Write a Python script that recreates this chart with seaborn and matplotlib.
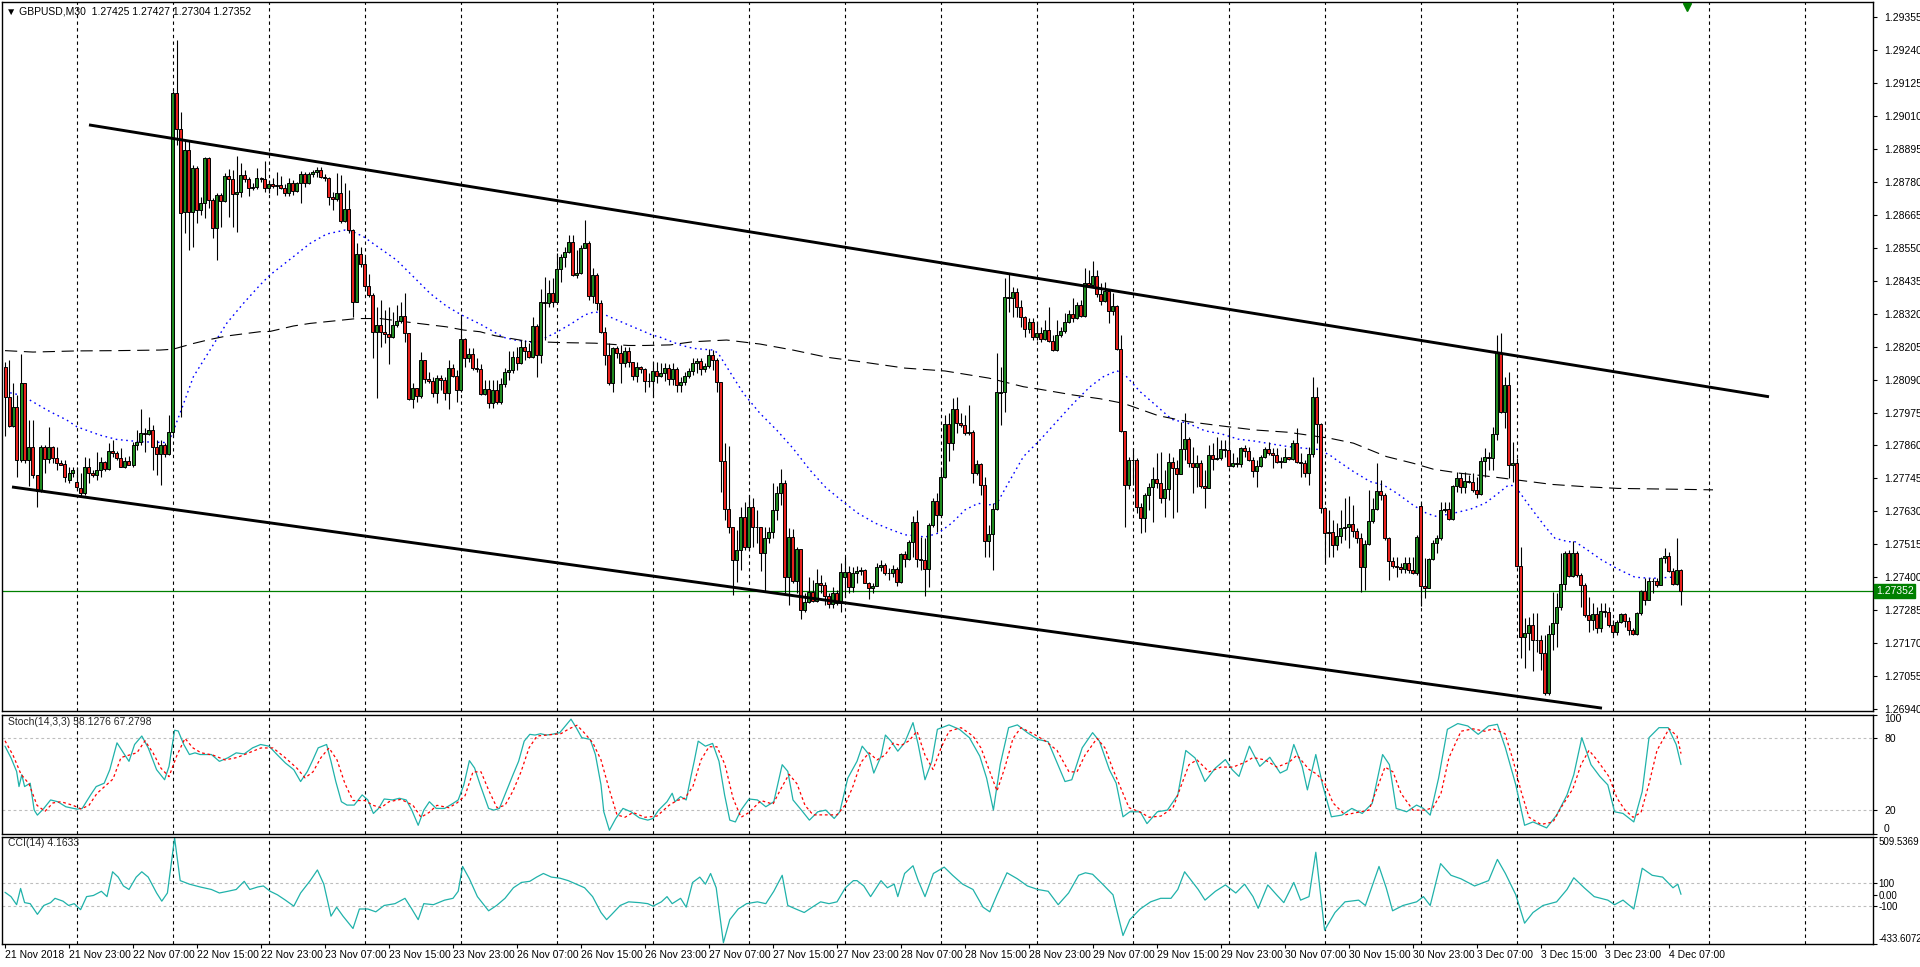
import numpy as np
import pandas as pd
import matplotlib
matplotlib.use('Agg')
import matplotlib.pyplot as plt
import seaborn as sns

# GBPUSD M30 candles, values are pips above BASE
BASE = 1.27

opens = [113.5,103.0,92.8,99.3,81.0,107.7,81.0,85.3,75.7,70.1,
         85.3,81.2,85.3,81.5,80.0,79.5,73.9,76.3,73.2,71.0,
         69.3,78.6,76.3,75.7,77.4,80.3,77.7,84.1,83.5,81.7,
         78.6,80.5,79.2,86.2,87.1,90.2,90.0,91.4,85.3,82.9,
         86.2,83.0,90.8,208.9,196.3,167.6,189.1,167.6,183.0,168.2,
         170.8,186.2,171.7,161.8,173.6,171.4,180.0,178.9,173.8,174.6,
         180.3,178.9,176.0,176.3,179.2,179.0,176.0,177.2,176.5,177.0,
         176.0,174.2,177.5,174.9,177.5,180.7,177.5,180.7,181.3,182.1,
         179.6,179.2,172.6,172.2,174.0,164.4,168.7,161.2,136.2,153.0,
         149.5,141.6,138.5,125.7,128.0,125.7,124.9,123.9,128.0,129.4,
         131.2,125.1,102.1,105.9,103.2,116.0,109.1,108.6,104.4,109.7,
         108.8,104.2,112.9,110.3,105.3,123.1,116.4,118.0,112.9,112.6,
         103.9,105.6,100.7,105.3,101.1,107.5,111.8,112.4,117.0,114.9,
         120.5,119.1,117.0,127.7,117.6,136.2,135.9,139.1,136.2,147.6,
         151.9,153.4,156.9,145.5,146.1,154.8,156.8,138.2,145.5,135.6,
         125.6,117.5,107.7,119.9,118.4,114.9,118.8,115.3,110.3,113.3,
         112.6,108.6,108.4,112.0,110.4,111.4,112.9,109.1,112.6,107.1,
         108.3,110.2,112.1,114.9,115.6,112.6,113.6,117.6,115.8,108.3,
         80.7,63.7,57.4,46.0,49.5,61.1,50.7,64.4,57.7,57.5,
         48.6,53.6,55.7,63.5,69.5,72.8,40.0,54.2,38.8,49.9,
         28.6,31.5,35.0,31.8,37.9,37.3,33.5,30.7,34.4,30.9,
         40.2,41.8,36.7,41.6,42.3,42.6,38.1,36.2,37.0,43.5,
         44.3,41.6,41.3,42.8,38.3,48.2,46.3,52.2,59.2,46.3,
         46.1,42.8,58.3,66.6,61.8,74.9,93.5,87.0,98.6,93.8,
         93.0,90.3,90.8,76.5,79.4,72.2,52.5,55.1,63.7,104.2,
         104.8,137.9,137.3,139.7,134.4,130.9,126.5,129.2,123.7,125.1,
         123.1,126.3,122.6,119.3,124.5,126.1,129.2,131.9,130.6,135.0,
         131.2,142.6,142.1,145.1,138.9,136.5,140.0,133.0,134.6,119.5,
         91.0,72.2,80.9,80.9,64.6,60.6,68.7,71.6,74.2,73.0,
         67.5,70.7,80.1,78.3,76.2,84.6,88.1,79.7,78.6,80.0,
         71.8,71.2,82.6,81.1,81.7,84.6,84.4,78.8,79.7,79.4,
         85.0,84.2,80.9,77.2,78.8,82.1,84.6,83.5,82.6,80.3,
         80.3,81.8,81.1,86.7,80.3,80.0,76.5,82.9,102.8,93.5,
         64.0,55.6,55.9,51.3,54.4,57.1,57.7,58.5,56.0,53.6,
         43.4,51.5,59.6,63.7,70.1,68.7,53.6,45.5,44.0,43.4,
         42.8,44.9,42.6,41.4,64.7,37.0,36.2,46.3,51.9,53.6,
         63.5,63.7,60.2,71.9,74.5,71.6,73.6,73.4,70.5,69.1,
         80.6,81.8,81.5,89.9,118.2,97.8,107.1,79.2,80.0,43.9,
         19.0,20.4,23.3,18.1,18.1,13.4,-0.3,20.2,24.1,29.7,
         37.5,48.4,40.6,48.4,40.8,37.3,26.8,25.1,27.1,22.2,
         28.2,27.7,23.3,21.0,24.5,27.1,24.8,21.6,20.2,27.4,
         35.2,32.1,38.7,38.8,37.3,46.6,47.5,42.3,37.6,42.5]

highs = [115.2,115.8,107.7,103.6,117.9,107.7,94.9,94.9,75.7,86.2,
         86.2,92.3,85.8,85.3,80.9,80.9,78.6,78.6,78.6,76.3,
         82.1,81.5,77.4,83.8,82.1,80.5,86.7,87.9,83.9,85.0,
         82.1,82.4,87.3,91.4,98.6,92.0,96.0,93.1,87.9,87.9,
         87.0,96.6,209.8,227.7,202.5,192.6,192.6,183.9,183.5,172.8,
         186.8,186.8,172.3,174.0,174.0,181.0,182.4,182.1,187.0,184.5,
         182.1,179.8,177.5,182.7,179.8,185.4,178.6,179.2,181.5,180.0,
         177.2,179.2,178.6,178.0,181.9,181.5,181.5,182.1,183.3,183.3,
         180.9,179.8,174.6,181.2,180.4,177.5,175.1,161.5,156.5,155.4,
         151.9,146.0,139.1,134.4,136.7,133.3,134.4,132.7,135.0,136.2,
         139.1,125.1,107.7,105.9,118.7,116.0,111.7,110.0,110.5,110.5,
         110.0,115.8,114.6,112.3,130.9,123.5,120.0,120.0,116.4,114.6,
         108.8,108.8,108.8,108.8,109.5,113.0,118.8,118.8,120.5,122.8,
         122.8,121.7,131.0,128.4,140.5,144.7,143.8,144.4,153.1,152.8,
         155.4,159.5,159.5,154.2,156.0,164.7,157.3,147.8,146.1,136.8,
         127.5,121.7,120.5,120.7,121.0,120.5,120.5,115.3,115.3,113.8,
         113.0,111.2,115.3,115.3,114.7,114.7,114.5,114.7,113.5,110.0,
         111.8,112.9,116.4,116.4,116.5,114.7,119.5,119.3,116.4,108.3,
         86.7,85.8,57.7,56.5,64.6,66.4,68.7,67.5,63.5,57.7,
         57.7,57.7,73.0,71.8,77.7,73.9,57.1,56.7,50.7,49.9,
         34.4,40.2,39.0,42.8,40.8,38.4,34.4,36.7,35.5,44.9,
         47.2,44.0,43.7,43.9,43.7,43.0,38.5,37.9,45.1,46.1,
         44.9,43.2,44.3,43.7,48.4,49.0,53.0,61.2,63.5,54.2,
         53.6,58.9,67.6,69.3,78.6,96.7,97.2,102.5,103.0,97.2,
         96.7,100.2,91.5,81.0,79.8,75.1,58.3,65.8,118.1,113.5,
         144.3,146.1,141.4,140.8,136.8,131.2,130.4,130.4,129.2,127.5,
         129.8,134.4,124.5,129.8,127.5,132.1,133.3,137.3,136.2,136.8,
         147.8,147.2,150.5,147.2,142.6,143.1,140.5,139.1,135.0,124.5,
         91.0,82.1,85.0,81.5,65.8,69.3,72.8,78.6,83.2,83.8,
         77.4,83.2,82.1,80.9,94.3,97.4,89.0,85.6,82.6,80.9,
         77.4,86.1,86.7,89.0,87.9,87.9,91.4,83.2,82.1,85.6,
         86.1,85.6,82.1,80.9,82.6,85.6,87.3,85.0,85.0,82.1,
         85.0,82.1,87.9,92.0,83.2,80.9,85.6,110.0,106.5,93.7,
         64.5,63.5,60.0,58.8,63.5,67.6,68.2,65.2,57.1,55.4,
         53.0,70.5,67.6,79.8,74.0,69.3,54.2,47.2,47.2,44.9,
         47.2,47.2,47.2,54.8,65.8,46.6,46.6,53.0,54.8,66.4,
         66.4,66.4,72.2,76.9,76.3,76.9,75.7,76.3,75.1,81.9,
         85.0,83.8,92.6,124.6,125.1,110.0,111.8,87.3,81.5,50.7,
         25.6,26.2,27.4,27.4,19.8,19.8,23.3,35.0,34.4,48.4,
         49.0,49.5,52.8,49.0,41.4,37.9,33.2,30.9,29.7,30.9,
         30.9,29.7,25.1,25.1,27.4,27.4,26.2,22.2,28.0,35.5,
         39.6,39.6,39.6,39.6,47.2,50.1,48.9,43.1,53.6,42.7]

lows = [89.3,92.6,92.3,75.1,80.3,80.0,71.9,74.5,64.4,69.9,
        76.3,80.0,80.0,77.4,79.2,73.4,73.0,75.1,70.5,68.4,
        68.7,72.8,75.1,73.9,75.1,77.1,77.4,82.1,80.9,78.4,
        78.0,79.0,78.6,84.4,86.2,83.8,89.8,77.4,75.7,72.2,
        82.1,82.8,89.0,190.9,96.0,160.0,154.2,155.4,163.5,166.4,
        165.3,168.8,158.3,150.7,162.4,171.0,165.8,162.4,160.6,172.8,
        178.0,173.0,175.2,175.4,178.0,174.6,174.2,175.8,173.4,175.4,
        173.1,173.1,173.4,174.6,170.5,176.3,177.2,179.8,179.8,179.2,
        178.4,169.9,168.2,171.5,163.5,164.0,160.0,130.9,136.0,148.4,
        140.8,137.9,116.4,102.4,120.5,121.6,114.6,123.4,127.5,128.6,
        122.2,101.8,98.9,101.3,102.4,107.7,107.7,103.0,100.7,105.3,
        101.8,98.6,110.0,101.3,104.5,113.5,115.0,112.3,111.8,103.6,
        103.6,98.9,98.9,100.5,100.4,106.5,108.8,111.2,112.3,114.5,
        115.9,116.4,116.5,109.8,114.7,122.8,134.5,134.3,136.0,143.2,
        148.4,153.1,145.0,144.4,145.8,154.8,136.8,135.6,133.3,125.2,
        114.1,107.1,104.8,116.4,107.9,113.5,113.5,108.9,108.3,111.2,
        104.5,106.5,103.0,107.7,110.0,108.5,107.1,107.1,104.8,104.8,
        107.1,109.4,110.6,111.4,110.6,111.8,112.9,112.5,104.8,69.9,
        60.0,55.3,33.8,38.5,42.5,49.5,49.5,50.7,51.8,42.0,
        35.0,51.8,53.6,60.0,65.2,34.4,30.3,37.9,34.4,25.3,
        28.0,30.9,31.5,31.5,34.4,30.3,29.2,29.2,30.3,28.0,
        33.2,34.6,35.0,37.9,40.8,37.9,32.3,34.4,36.8,42.0,
        40.8,39.1,40.2,37.0,38.1,43.7,46.1,47.2,43.7,42.6,
        33.5,36.7,57.7,55.9,61.7,74.6,80.4,84.4,90.3,92.6,
        89.7,89.7,72.8,75.7,68.7,47.2,47.2,42.5,63.5,93.1,
        97.8,132.7,131.0,131.0,127.2,124.0,125.1,122.8,122.8,122.2,
        122.8,122.2,118.8,119.0,124.0,125.1,128.6,129.2,130.0,130.9,
        131.0,141.9,142.0,137.9,135.0,136.2,128.6,131.5,119.3,90.8,
        57.6,70.9,72.2,62.3,55.5,55.9,63.5,59.4,71.0,65.8,
        61.1,66.9,60.5,62.9,76.0,80.9,78.6,69.3,71.6,71.0,
        64.3,71.0,77.4,80.9,80.9,82.1,78.6,78.6,78.6,78.6,
        82.1,80.5,75.0,71.6,78.6,81.5,82.6,78.3,79.7,78.3,
        80.3,80.9,80.9,79.7,75.0,75.0,72.2,82.1,86.7,62.3,
        45.0,47.2,47.2,49.5,51.9,53.0,50.1,54.2,51.9,35.0,
        35.6,51.3,58.8,63.5,67.0,53.0,39.1,43.1,40.2,41.4,
        41.4,41.4,41.0,40.8,29.8,32.6,36.2,46.0,48.4,53.0,
        62.9,60.0,60.0,69.9,69.3,69.3,72.9,69.9,67.6,68.8,
        75.1,77.4,77.4,87.9,97.2,92.0,74.5,73.4,43.7,11.7,
        8.2,14.6,7.1,14.0,7.6,-1.1,-1.1,14.6,15.8,28.6,
        35.5,40.2,40.2,40.2,29.7,26.2,21.0,21.6,20.4,21.0,
        26.2,22.7,19.8,19.8,24.1,22.7,19.8,19.8,19.8,26.8,
        30.3,32.0,34.4,36.7,37.3,44.9,41.9,37.3,37.3,30.4]

closes = [103.0,92.8,99.3,81.0,107.7,81.0,85.3,75.7,70.1,85.3,
          81.2,85.3,81.5,79.8,79.2,75.1,76.3,77.4,71.6,69.3,
          78.6,76.3,75.7,77.4,80.3,77.7,84.1,83.5,81.7,78.6,
          80.5,79.2,86.2,87.1,90.2,90.0,91.4,85.3,82.9,86.2,
          83.0,90.8,208.9,196.3,167.0,189.1,167.6,183.0,168.2,170.8,
          186.2,171.7,161.8,173.6,171.4,180.0,178.9,173.8,174.6,180.3,
          178.9,176.0,176.3,179.2,179.0,176.0,177.2,176.5,177.0,176.0,
          174.2,177.5,174.9,177.5,180.7,177.5,180.7,181.3,182.1,179.6,
          179.2,172.6,172.2,174.0,164.4,168.7,161.2,136.2,153.0,149.5,
          141.6,138.5,125.7,128.0,125.7,124.9,123.9,128.0,129.4,131.2,
          125.1,102.1,105.9,103.2,116.0,109.1,108.6,104.4,109.7,108.8,
          104.2,112.9,110.3,105.3,123.1,116.4,118.0,112.9,112.6,103.9,
          105.6,100.7,105.3,101.1,107.5,111.8,112.4,117.0,114.9,120.5,
          119.1,117.0,127.7,117.6,136.2,135.9,139.1,136.2,147.6,151.9,
          153.4,156.9,145.5,146.1,154.8,156.8,138.2,145.5,135.6,125.6,
          117.5,107.7,119.9,118.4,114.9,118.8,115.3,110.3,113.3,112.6,
          108.6,108.4,112.0,110.4,111.4,112.9,109.1,112.6,107.1,108.3,
          110.2,112.1,114.9,115.6,112.6,113.6,117.6,115.8,108.3,80.7,
          63.7,57.4,46.0,49.5,61.1,50.7,64.4,57.7,57.5,48.6,
          53.6,55.7,63.5,69.5,72.8,40.0,54.2,38.8,49.9,28.6,
          31.5,35.0,31.8,37.9,37.3,33.5,30.7,34.4,30.9,41.8,
          41.8,36.7,41.6,42.3,42.6,38.1,36.2,37.0,43.5,44.3,
          41.6,41.3,42.8,38.3,48.2,46.3,52.2,59.2,46.3,46.1,
          42.8,58.3,66.6,61.8,74.9,93.5,87.0,98.6,93.8,93.0,
          90.3,90.8,76.5,79.4,72.2,52.5,55.1,63.7,104.8,104.8,
          137.9,137.3,139.7,134.4,130.9,126.5,129.2,123.7,125.1,123.1,
          126.3,122.6,119.3,124.5,126.1,129.2,131.9,130.6,135.0,131.2,
          142.6,142.1,145.1,138.9,136.5,140.0,133.0,134.6,119.5,91.0,
          72.2,80.9,80.9,64.6,60.6,68.7,71.6,74.2,73.0,67.5,
          70.7,80.1,78.3,76.2,84.6,88.1,79.7,78.6,80.0,71.8,
          71.2,82.6,81.1,81.7,84.6,84.4,78.8,79.7,79.4,85.0,
          84.2,80.9,77.2,78.8,82.1,84.6,83.5,82.6,80.3,80.3,
          81.8,81.1,86.7,80.3,80.0,76.5,82.9,102.8,93.5,64.0,
          55.6,55.9,51.3,54.4,57.1,57.7,58.5,56.0,53.6,43.4,
          51.5,59.6,63.7,70.1,68.7,53.6,45.5,44.0,43.4,42.8,
          44.9,42.6,41.4,53.9,37.0,36.2,46.3,51.9,53.6,63.5,
          63.7,60.2,71.9,74.5,71.6,73.6,73.4,70.5,69.1,80.6,
          81.8,81.5,89.9,118.2,97.8,107.1,79.2,80.0,43.9,19.0,
          20.4,23.3,18.1,18.1,13.4,-0.3,20.2,24.1,29.7,37.5,
          48.4,40.6,48.4,40.8,37.3,26.8,25.1,27.1,22.2,28.2,
          27.7,23.3,21.0,24.5,27.1,24.8,21.6,20.2,27.4,35.2,
          32.1,38.7,38.8,37.3,46.6,47.5,42.3,37.6,42.5,35.2]

# moving averages (bar index, pips)
ma_fast_x = [0,3.75,6.25,11.25,15.4,18,23.75,27.9,33.75,40.4,41.7,44.2,47.1,51.25,55.4,59.6,
             63.75,66.25,72.1,76.25,80.4,83.75,85,87,89.6,93.75,97.9,102.1,106.25,110.4,114.2,
             118.75,122.9,125,127.5,132.5,137.5,141.7,145,147.5,150,155.8,161.7,163.75,168.75,
             172,177,178.3,180.4,184.6,188.75,192.9,197,201.25,205.2,210,213.3,217.5,221.7,225,
             228.3,230,233.3,236.7,240,243.3,245.8,248,251.25,254.6,258.75,262.9,267.1,271.25,
             274.6,278,280.4,283.75,287.9,291.7,295.8,300,304.2,308.3,312.5,316.7,320.8,325,
             328.3,331.25,332.9,337.1,341.25,344.6,348,352,355.4,357.9,362,366.25,370,373.3,
             375.8,377.5,380,382.5,385,387.5,390.8,392.5,395,399.2,403.3,407.5,411.7,416.7,419]
ma_fast_y = [104.8,103.6,101.8,97.8,94.9,92.5,89.6,88.1,87.3,87.0,89.6,98.9,110,119.3,128.6,135.6,
             142,145.5,151.9,156.5,159.8,160.8,161.2,160.6,158.9,154.8,150.7,144.9,139.1,134.6,131.5,
             128.4,125.1,123.6,122.8,121.9,125.2,128.6,131.6,132.7,131.6,128.1,124.6,123.8,121.1,
             119.9,119.3,118.2,113.5,104.2,97.2,91.4,85,77.4,71.3,65.8,62.3,58.9,56.5,54.8,
             54.4,54.0,55.4,58.9,63.5,65.8,65.2,65.8,73.9,82.1,87.9,94.3,100.7,106.5,
             110,112.1,110,104.8,99.8,95.1,93.7,91.1,90,88.2,87.5,86.5,85.6,85,
             84.6,82.6,80.9,76.9,73.4,72.2,69.3,65.2,62.3,61.2,62.3,63.7,65.8,69.3,
             72.1,71.9,67,62.3,57.7,53.6,52.4,52.4,50.1,46,42.8,40,39.6,40,39.6]

ma_slow_x = [0,7,18,28,38.75,42,47.1,51.25,55.4,63.75,66.25,72.1,76.25,82.5,88,93.75,102.1,110.4,
             114.6,118.75,122.5,130.8,139.2,147.5,155.8,160,166.25,172,180.4,188.75,197,205.4,213,
             225,235,246,254.6,258.75,267.1,273.75,279.6,288.3,295.8,304.2,312.5,320.8,331.25,
             337.1,345.4,352,357.1,363.75,370.4,378.3,386.7,395,403.3,418.3,427]
ma_slow_y = [119.1,118.6,119,119.1,119.3,119.6,121.6,123,124.2,125.7,125.8,127.7,128.6,129.5,130.3,
             130.3,128.8,127.4,126.3,125.7,124.3,122.3,121.9,121.7,120.9,120.9,121.1,122.2,122.8,
             121.4,119.3,116.8,115.4,113,112,109.5,106.5,105.6,103.6,102.3,100.7,96.4,94.3,92.8,
             91.4,90.6,88.5,86.8,82.1,79.8,77.7,76.3,75.3,73.9,72.4,71.6,71.0,70.7,70.5]

# channel lines (bar index, pips at the two ends)
upper_x, upper_y = [21, 441], [197.9, 103.0]
lower_x, lower_y = [1.75, 399.25], [71.5, -5.7]
bid_price = 1.27352

# Stochastic(14,3,3): main and signal lines
stoch_x = [0,1.5,2.9,3.5,4.2,4.9,6.3,7.3,8.1,9.7,11.4,13.2,15.2,18,19.3,21.4,22.8,24.8,26.2,28,
           29.6,31,32.4,34.2,35.8,37.9,39.9,41,42.4,43.3,44.7,46.1,47.5,48.8,51.6,53.6,55.7,57.8,
           59.8,61.9,63.9,66,68,70.1,72.2,73.9,75.6,77,78.3,80.4,81.5,82.7,84.1,85.5,87.3,89.3,
           90.7,92.1,93.4,94.8,96.9,98.6,100.3,101.7,103.3,104.7,106.1,107.8,109.9,112,113.3,
           114.7,116.1,117.4,118.8,120.9,122.2,123.6,125.3,127,128.4,129.8,131.2,132.5,133.9,
           135.3,136.7,138.7,140.1,141.5,142.8,144.2,146.3,147.6,149,149.7,151.1,152.7,154.5,
           156.5,158.6,160.7,162,163.4,165.5,166.8,167.5,168.9,170.3,171.4,172.3,173.3,175.1,
           176.9,178.5,179.9,181.2,182.6,184,186,188.1,190.2,192.2,194.3,195.7,197,199.1,201.1,
           203.2,205.2,207.3,208.7,210.7,213,214.3,216,217.2,219,220.1,221.5,223.2,224.9,227,
           228.3,230,231.7,233.1,236,238.6,241.1,243.7,245.4,247.1,248.8,250.9,253.1,255.6,258.2,
           260.8,262.5,265,266.7,269.3,271.9,273.6,276.1,277.8,279.5,281.2,283.8,285.5,288.1,
           290.6,293.2,295.2,297.5,300,302.6,305.1,306.8,308.5,311.1,313.7,316.2,318.8,320.5,
           322.2,324.3,325.6,327.7,329.4,331.6,334.2,336.7,339.3,341.8,344.4,346.1,347.8,350.4,
           352.9,354.6,356.3,358.4,360.6,363.2,365.7,368.3,370.9,373.1,375.1,377.7,379.9,382,
           385.4,387.9,390.5,392.2,394.2,396.5,398.7,400.7,402.4,404.5,407.2,409.3,411,413.5,
           415.8,417.8,419]
stoch_k = [73.5,63.7,52.4,39.7,49.6,39.7,42.5,20,15.8,21.4,28.5,27,22.8,20.8,21.4,32.7,39.7,42.5,53.8,76.3,
           67.9,60.8,74.9,82,72.1,53.8,45.4,56.6,86.8,86.2,74.9,66.5,67.9,66.5,66.5,60.8,63.7,67.9,
           67,72.1,74.9,73.5,66.5,59.4,53.8,43.9,52.4,62.3,72.1,74.9,60.8,43.9,27,24.2,24.2,32.7,
           28.5,17.2,21.4,29.3,28.5,29.9,28.5,20,7.3,20,27,21.4,21.4,25.6,28.5,
           41.1,61.4,55.2,41.1,21.4,20,21.4,35.5,49.6,60.8,77.7,83.4,82.8,83.9,
           82.8,83.4,84.8,90.4,96.1,89,80.6,79.2,66.5,41.1,18.6,3.1,13,21.4,
           18.6,13.5,11.6,13,20,27,34.1,27,31.3,28.5,46.8,60.8,77.7,73.5,
           75.8,60.8,32.7,11.6,10.1,20,29.3,28.5,22.8,27,58,52.4,28.5,20,11.6,
           18.6,20,13,18.6,46.8,60.8,73.5,66.5,51,65.1,82.8,77.7,69.3,76.3,93.2,
           74.9,45.4,60.8,87.6,91.3,87.6,80.6,65.1,46.8,20,58,89,91.3,84.8,79.2,
           77.2,63.7,43.9,45.4,72.1,84.8,77.7,53.8,42.5,14.4,18.6,18.6,8.7,18.6,
           20,32.7,69.9,63.7,43.9,55.2,62.3,53.8,48.2,73.5,56.6,64.2,51,53.8,
           74.9,56.6,36.9,66.5,41.1,14.4,15.8,21.4,17.2,25.6,66.5,58,21.4,18.6,
           24.2,21.4,15.8,46.8,87.6,92.4,90.4,83.4,90.4,91.8,72.1,41.1,7.3,10.1,
           5.1,15.8,32.7,49.6,80.6,58,48.2,41.1,18.6,17.2,10.1,35.5,80.6,89,
           89,74.9,58.1]
sig_x = [0,2,4,6,8,10,12,14,17,19,21,23,25,27,29,31,33,35,37,39,41,43,45,47,49,52,55,58,61,64,67,70,
         73,75,77,79,81,83,85,87,90,92,94,96,99,102,104,106,108,111,113,115,117,119,121,123,125,127,
         129,131,133,136,139,141,143,145,147,149,151,153,155,157,160,163,166,168,170,172,174,176,
         178,180,182,184,186,189,192,194,196,198,200,202,205,208,210,212,214,216,218,220,222,224,
         226,228,230,232,234,236,239,242,244,246,248,250,252,254,257,260,263,266,268,270,273,275,
         277,279,281,284,286,289,292,294,296,298,301,304,307,310,312,315,318,321,323,326,328,330,
         332,335,338,341,343,345,347,349,352,355,357,359,361,364,367,370,372,375,377,379,381,384,
         387,389,392,394,396,398,401,403,405,407,409,411,413,416,418,419]
sig_d = [78,66,50,42,24,19,26,27,24,21,24,34,40,46,64,66,68,78,68,55,48,66,80,72,68,66,62,64,68,72,72,64,
         55,47,52,64,72,62,42,28,28,24,22,27,29,24,14,18,24,22,26,32,52,52,36,22,24,36,
         52,72,82,83,84,88,91,84,76,62,38,16,14,18,14,15,24,28,30,40,62,73,
         73,58,30,14,18,28,25,38,50,42,24,16,16,16,24,40,60,68,62,66,76,74,
         78,86,66,54,72,86,89,82,72,54,36,56,80,89,84,78,70,52,52,66,80,72,
         54,38,22,18,14,15,22,40,58,62,52,56,56,60,64,62,56,60,66,54,50,42,
         26,16,18,20,38,56,52,34,20,20,22,34,64,86,88,86,88,84,62,36,14,8,
         10,22,38,58,70,62,48,30,20,14,18,42,70,88,82,67.3]

# CCI(14)
cci_x = [0,1.5,2.9,3.9,4.9,6.3,8.1,9.7,11.4,12.5,14.5,15.9,17.3,18.9,20.4,22.1,24.1,25.5,26.9,28.3,
         29.6,31,32.8,34.2,35.8,37.9,39.2,40.6,42.4,43.8,46.1,48.8,51.6,53.6,55.7,57.8,59.8,61.2,
         63.2,64.6,66.3,68.1,70.1,72.2,73.9,76.3,78.1,79.7,81.5,82.9,84.5,87,88.6,90.7,92.7,94.8,
         97.5,100,101.7,103.3,104.7,107.1,109.9,112,113.3,114.4,116.1,118.1,120.9,122.9,125,127.1,
         129.1,131.2,132.9,134.6,136.6,138.7,140.8,142.8,144.9,146.9,149,150.4,151.7,153.8,155.9,
         158.6,160.7,162,164.1,165.5,166.8,168.9,170.3,171.9,173.7,175.1,176.4,177.8,179.6,181.2,
         183.3,185.4,188.1,190.2,192.2,194.3,195.7,197.7,199.8,201.8,203.9,206,208,210.1,212.1,
         213,214.7,216.4,219,220.6,222.3,223.2,224.9,227,228.3,230,232.1,234.8,236.9,239.4,242,
         244.5,246.2,248,250.5,253.1,255.6,258.2,260.8,263.3,265.9,268.4,270.1,271.9,274.4,277,
         279.5,281.2,283.8,286.4,288.9,291.5,293.2,294.9,296.6,298.3,300,302.6,305.1,307.7,309.9,
         312,313.3,315.7,317.9,319.7,322.2,323.9,326,327.7,329.9,332.5,335,338.4,340.1,343.5,
         345.3,346.9,349.5,352.9,354.6,356.3,358.9,361.5,364,367.4,370.9,373.1,375.1,377.7,379.9,
         382,384.5,387.9,390.5,392.2,394.8,397.3,400.7,402.4,404.5,407.2,409.3,411.8,414.4,417,
         418.2,419]
cci_v = [22,-16,-87,56,-69,-78,-172,-94,-69,-31,-56,-94,-78,-131,-16,-6,31,-16,203,156,
         78,47,156,203,156,16,-56,16,500,125,94,69,47,16,31,47,119,47,
         69,78,31,0,-47,-100,16,125,219,94,-188,-109,-188,-297,-125,-125,-150,-94,
         -78,-31,-125,-219,-78,-87,-47,-31,31,250,141,-16,-141,-94,-31,62,
         109,119,156,188,156,147,125,94,62,-16,-156,-219,-172,-94,-62,
         -69,-78,-100,-62,-16,-78,-31,-109,109,156,94,188,62,-422,-219,
         -125,-78,-62,-78,31,172,-94,-125,-156,-109,-62,-78,-62,62,125,
         125,78,-16,125,62,94,-16,188,256,125,-16,188,244,172,94,47,
         -109,-150,0,194,141,78,47,31,-87,16,172,194,181,94,0,
         -359,-219,-125,-62,-31,-31,47,203,125,47,-47,31,87,16,94,
         -16,-119,87,0,-69,109,-47,-16,375,-312,-156,-62,-47,-94,250,
         62,-141,-94,-62,-16,-94,275,172,141,78,125,312,188,0,-250,
         -156,-94,-62,47,150,62,-16,-47,-87,-47,-125,234,172,156,62,
         94,4.2]

price_labels = ["1.29355","1.29240","1.29125","1.29010","1.28895","1.28780","1.28665","1.28550",
                "1.28435","1.28320","1.28205","1.28090","1.27975","1.27860","1.27745","1.27630",
                "1.27515","1.27400","1.27285","1.27170","1.27055","1.26940"]
date_labels = ["21 Nov 2018","21 Nov 23:00","22 Nov 07:00","22 Nov 15:00","22 Nov 23:00",
               "23 Nov 07:00","23 Nov 15:00","23 Nov 23:00","26 Nov 07:00","26 Nov 15:00",
               "26 Nov 23:00","27 Nov 07:00","27 Nov 15:00","27 Nov 23:00","28 Nov 07:00",
               "28 Nov 15:00","28 Nov 23:00","29 Nov 07:00","29 Nov 15:00","29 Nov 23:00",
               "30 Nov 07:00","30 Nov 15:00","30 Nov 23:00","3 Dec 07:00","3 Dec 15:00",
               "3 Dec 23:00","4 Dec 07:00"]
date_bars = [16 * i for i in range(len(date_labels))]

GREEN = '#1f8a1f'
RED = '#e8211d'
TEAL = '#20b2aa'

sns.set_style('white')
plt.rcParams['font.family'] = ['Liberation Sans', 'DejaVu Sans']
plt.rcParams['font.size'] = 7.5

fig = plt.figure(figsize=(19.2, 9.67), dpi=100)
W, H = 1920, 967


def panel(top, bottom, left=2, right=1873):
    return fig.add_axes([left / W, 1 - bottom / H, (right - left) / W, (bottom - top) / H])


ax = panel(2, 711)
ax_st = panel(714.5, 834)
ax_cci = panel(837, 944)

to_price = lambda v: BASE + np.asarray(v, dtype=float) / 1e4
o, h, l, c = map(to_price, (opens, highs, lows, closes))
x = np.arange(len(c))

# --- candles ---
ax.vlines(x, l, h, color='black', lw=0.8, zorder=3)
up = c >= o
body = np.maximum(np.abs(c - o), 0.000012)
bot = np.minimum(o, c)
ax.bar(x[up], body[up], bottom=bot[up], width=0.75, color=GREEN, edgecolor='black', linewidth=0.7, zorder=4)
ax.bar(x[~up], body[~up], bottom=bot[~up], width=0.75, color=RED, edgecolor='black', linewidth=0.7, zorder=4)

# --- moving averages ---
fast = pd.DataFrame({'bar': ma_fast_x, 'price': to_price(ma_fast_y)})
slow = pd.DataFrame({'bar': ma_slow_x, 'price': to_price(ma_slow_y)})
sns.lineplot(data=fast, x='bar', y='price', ax=ax, color='#0000ff', lw=1.0, estimator=None, sort=False)
ax.lines[-1].set_linestyle((0, (1.2, 2.6)))
sns.lineplot(data=slow, x='bar', y='price', ax=ax, color='black', lw=0.8, estimator=None, sort=False)
ax.lines[-1].set_linestyle((0, (11, 6)))

# channel and bid line
ax.plot(upper_x, to_price(upper_y), color='black', lw=2.1, solid_capstyle='butt', zorder=5)
ax.plot(lower_x, to_price(lower_y), color='black', lw=2.1, solid_capstyle='butt', zorder=5)
ax.axhline(bid_price, color='#008000', lw=0.9, zorder=2)
ax.plot([420.5], [to_price(239.2)], marker='v', color='#008000', ms=6, zorder=6, clip_on=False)

# --- stochastic ---
sns.lineplot(x=stoch_x, y=stoch_k, ax=ax_st, color=TEAL, lw=0.9, estimator=None, sort=False)
sns.lineplot(x=sig_x, y=sig_d, ax=ax_st, color='#ff0000', lw=0.9, estimator=None, sort=False)
ax_st.lines[-1].set_linestyle((0, (2.2, 2.2)))
for lvl in (20, 80):
    ax_st.axhline(lvl, color='#bdbdbd', lw=0.8, ls=(0, (2.5, 2.5)), zorder=0)

# --- CCI ---
sns.lineplot(x=cci_x, y=cci_v, ax=ax_cci, color=TEAL, lw=0.9, estimator=None, sort=False)
for lvl in (100, -100):
    ax_cci.axhline(lvl, color='#bdbdbd', lw=0.8, ls=(0, (2.5, 2.5)), zorder=0)

# --- shared styling ---
for a in (ax, ax_st, ax_cci):
    a.set_xlim(-0.75, 467)
    for b in range(18, 467, 24):
        a.axvline(b, color='black', lw=0.8, ls=(0, (3, 3)), zorder=1)
    for s in a.spines.values():
        s.set_color('black')
        s.set_linewidth(1.0)
    a.set_xlabel('')
    a.set_ylabel('')
    a.yaxis.tick_right()
    a.tick_params(axis='y', direction='out', length=3, width=0.8, pad=5, labelsize=7.5,
                  colors='black', right=True, left=False)
    a.tick_params(axis='x', bottom=False, labelbottom=False)
    a.grid(False)

ax.set_ylim(to_price(-6.7), to_price(240.8))
ax.set_yticks([float(p) for p in price_labels], price_labels)

ax_st.set_ylim(0, 100)
ax_st.set_yticks([0, 20, 80, 100], ['0', '20', '80', '100'])
for t in ax_st.get_yticklabels():
    if t.get_text() == '100':
        t.set_va('top')
    elif t.get_text() == '0':
        t.set_va('bottom')

ax_cci.set_ylim(-433.6072, 509.5369)
ax_cci.set_yticks([-433.6072, -100, 0, 100, 509.5369], ['-433.6072', '-100', '0.00', '100', '509.5369'])
ax_cci.tick_params(axis='y', pad=1.0, labelsize=7.0)
for t in ax_cci.get_yticklabels():
    if t.get_text() == '509.5369':
        t.set_va('top')
    elif t.get_text() == '-433.6072':
        t.set_va('bottom')

ax_cci.set_xticks(date_bars)
ax_cci.set_xticklabels(date_labels, ha='left')
ax_cci.tick_params(axis='x', bottom=True, labelbottom=True, direction='out', length=3, width=0.8,
                   pad=1.5, labelsize=7.5, colors='black')

# bid price box on the price scale
ax.text(1.0015, bid_price, '1.27352', transform=ax.get_yaxis_transform(), ha='left', va='center',
        fontsize=7.5, color='white', zorder=10,
        bbox=dict(boxstyle='square,pad=0.18', fc='#008000', ec='#008000'), clip_on=False)

# panel captions
fig.text(6 / W, 1 - 12 / H, '\u25bc GBPUSD,M30  1.27425 1.27427 1.27304 1.27352', fontsize=7.5,
         va='center', ha='left', color='black')
fig.text(8 / W, 1 - 722 / H, 'Stoch(14,3,3) 58.1276 67.2798', fontsize=7.5, va='center', ha='left')
fig.text(8 / W, 1 - 843 / H, 'CCI(14) 4.1633', fontsize=7.5, va='center', ha='left')

fig.savefig('out.png', dpi=100, facecolor='white')
